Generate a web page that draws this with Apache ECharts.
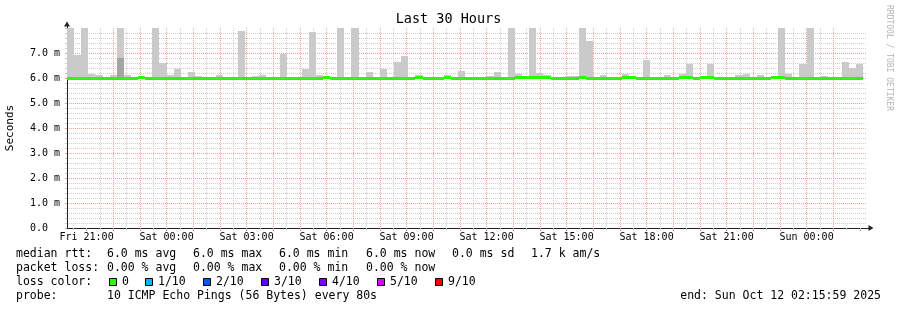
<!DOCTYPE html>
<html><head><meta charset="utf-8">
<script src="https://cdn.jsdelivr.net/npm/echarts@6/dist/echarts.min.js"></script>
<style>html,body{margin:0;padding:0;background:#fff}#c{width:897px;height:310px}</style>
</head><body><div id="c"></div>
<script>
// ---- text ----
const titleText = 'Last 30 Hours';
const yAxisName = 'Seconds';
const watermark = 'RRDTOOL / TOBI OETIKER';
const dayNames = ['Fri', 'Sat', 'Sun'];

// ---- time axis (hours since Fri 00:00) ----
const xStartHour = 20 + 15 / 60 + 59 / 3600;   // Fri 20:15:59
const xEndHour = xStartHour + 30;               // Sun 02:15:59
const firstBarHour = 20 + 16 / 60;              // first 16-min consolidation step
const stepHours = 16 / 60;
const majorTickHours = [21,22,23,24,25,26,27,28,29,30,31,32,33,34,35,36,37,38,39,40,41,42,43,44,45,46,47,48,49,50];
const minorTickHours = [20.5,21.5,22.5,23.5,24.5,25.5,26.5,27.5,28.5,29.5,30.5,31.5,32.5,33.5,34.5,35.5,36.5,37.5,38.5,39.5,40.5,41.5,42.5,43.5,44.5,45.5,46.5,47.5,48.5,49.5];
const labelHours = [21, 24, 27, 30, 33, 36, 39, 42, 45, 48];

// ---- y axis (ms) ----
const yMin = 0, yMax = 8, yInterval = 1;

// ---- series values (ms), one per 16-minute step ----
const smokeMax = [
  8.0, 6.92, 8.0, 6.16, 6.12, 6.0, 6.12, 8.0, 6.12, 6.0,
  6.04, 6.0, 8.0, 6.6, 6.12, 6.36, 6.0, 6.24, 6.08, 6.0,
  6.0, 6.12, 6.0, 6.0, 7.88, 6.0, 6.08, 6.12, 6.0, 6.0,
  6.96, 6.0, 6.0, 6.36, 7.84, 6.12, 6.1, 6.0, 8.0, 6.0,
  8.0, 6.0, 6.24, 6.0, 6.36, 6.0, 6.64, 6.88, 6.04, 6.12,
  6.0, 6.0, 6.0, 6.12, 6.0, 6.28, 6.0, 6.0, 6.06, 6.08,
  6.24, 6.0, 8.0, 6.16, 6.1, 8.0, 6.2, 6.12, 6.0, 6.0,
  6.08, 6.08, 8.0, 7.48, 6.0, 6.12, 6.0, 6.04, 6.16, 6.08,
  6.0, 6.72, 6.0, 6.0, 6.12, 6.0, 6.16, 6.56, 6.0, 6.0,
  6.56, 6.0, 6.0, 6.0, 6.12, 6.16, 6.0, 6.12, 6.0, 6.0,
  8.0, 6.16, 6.0, 6.56, 8.0, 6.0, 6.08, 6.0, 6.0, 6.64,
  6.4, 6.56
];
const smokeSecond = [
  6.0, 6.0, 6.0, 6.0, 6.0, 6.0, 6.0, 6.8, 6.0, 6.0,
  6.0, 6.0, 6.0, 6.0, 6.0, 6.0, 6.0, 6.0, 6.0, 6.0,
  6.0, 6.0, 6.0, 6.0, 6.0, 6.0, 6.0, 6.0, 6.0, 6.0,
  6.0, 6.0, 6.0, 6.0, 6.0, 6.0, 6.0, 6.0, 6.0, 6.0,
  6.0, 6.0, 6.0, 6.0, 6.0, 6.0, 6.0, 6.0, 6.0, 6.0,
  6.0, 6.0, 6.0, 6.0, 6.0, 6.0, 6.0, 6.0, 6.0, 6.0,
  6.0, 6.0, 6.0, 6.0, 6.0, 6.0, 6.0, 6.0, 6.0, 6.0,
  6.0, 6.0, 6.0, 6.0, 6.0, 6.0, 6.0, 6.0, 6.0, 6.0,
  6.0, 6.0, 6.0, 6.0, 6.0, 6.0, 6.0, 6.0, 6.0, 6.0,
  6.0, 6.0, 6.0, 6.0, 6.0, 6.0, 6.0, 6.0, 6.0, 6.0,
  6.0, 6.0, 6.0, 6.0, 6.0, 6.0, 6.0, 6.0, 6.0, 6.0,
  6.0, 6.0
];
const medianRtt = [
  6.0, 6.0, 6.0, 6.0, 6.0, 6.0, 6.0, 6.0, 6.0, 6.0,
  6.04, 6.0, 6.0, 6.0, 6.0, 6.0, 6.0, 6.0, 6.0, 6.0,
  6.0, 6.0, 6.0, 6.0, 6.0, 6.0, 6.0, 6.0, 6.0, 6.0,
  6.0, 6.0, 6.0, 6.0, 6.0, 6.0, 6.04, 6.0, 6.0, 6.0,
  6.0, 6.0, 6.0, 6.0, 6.0, 6.0, 6.0, 6.0, 6.0, 6.04,
  6.0, 6.0, 6.0, 6.04, 6.0, 6.0, 6.0, 6.0, 6.0, 6.0,
  6.0, 6.0, 6.0, 6.04, 6.04, 6.04, 6.04, 6.04, 6.0, 6.0,
  6.0, 6.0, 6.04, 6.0, 6.0, 6.0, 6.0, 6.0, 6.04, 6.04,
  6.0, 6.0, 6.0, 6.0, 6.0, 6.0, 6.04, 6.04, 6.0, 6.04,
  6.04, 6.0, 6.0, 6.0, 6.0, 6.0, 6.0, 6.0, 6.0, 6.04,
  6.04, 6.0, 6.0, 6.0, 6.0, 6.0, 6.0, 6.0, 6.0, 6.0,
  6.0, 6.0
];

// ---- legend texts ----
const statLines = [
  ['median rtt:', '6.0 ms avg', '6.0 ms max', '6.0 ms min', '6.0 ms now', '0.0 ms sd', '1.7 k am/s'],
  ['packet loss:', '0.00 % avg', '0.00 % max', '0.00 % min', '0.00 % now']
];
const lossTitle = 'loss color:';
const lossLabels = ['0', '1/10', '2/10', '3/10', '4/10', '5/10', '9/10'];
const lossColors = ['#26ff00', '#00b8ff', '#0059ff', '#5e00ff', '#7e00ff', '#dd00ff', '#ff0000'];
const probeTitle = 'probe:';
const probeText = '10 ICMP Echo Pings (56 Bytes) every 80s';
const endText = 'end: Sun Oct 12 02:15:59 2025';

// ---- build ----
const MONO = 'DejaVu Sans Mono';
const gridMinor = '#cdcdcd';
const gridMajor = '#f2a2a2';
const axisColor = '#222';

const smokeData = smokeMax.map((v, i) => {
  const t0 = firstBarHour + i * stepHours;
  return [t0, t0 + stepHours, medianRtt[i], v, smokeSecond[i]];
});
const medianData = medianRtt.map((m, i) => {
  const t0 = firstBarHour + i * stepHours;
  return [t0, t0 + stepHours, m];
});

function fmtHour(h) {
  const hr = Math.round(h);
  return dayNames[Math.floor(hr / 24)] + ' ' + String(hr % 24).padStart(2, '0') + ':00';
}
function fmtMs(v) { return v === 0 ? '0.0  ' : v.toFixed(1) + ' m'; }

function clampers(cs) {
  return {
    cy: y => Math.round(Math.min(Math.max(y, cs.y), cs.y + cs.height)),
    cx: x => Math.round(Math.min(Math.max(x, cs.x), cs.x + cs.width))
  };
}
function renderSmoke(params, api) {
  const { cx, cy } = clampers(params.coordSys);
  const t0 = api.value(0), t1 = api.value(1), lo = api.value(2), hi = api.value(3), hi2 = api.value(4);
  const x0 = cx(api.coord([t0, lo])[0]);
  const x1 = cx(api.coord([t1, lo])[0]);
  const yLo = cy(api.coord([t0, lo])[1]);
  const yHi = cy(api.coord([t0, hi])[1]);
  const yHi2 = cy(api.coord([t0, hi2])[1]);
  const children = [];
  if (yLo > yHi) children.push({ type: 'rect', shape: { x: x0, y: yHi, width: x1 - x0, height: yLo - yHi }, style: { fill: '#cacaca' } });
  if (yLo > yHi2) children.push({ type: 'rect', shape: { x: x0, y: yHi2, width: x1 - x0, height: yLo - yHi2 }, style: { fill: '#a4a4a4' } });
  return { type: 'group', children };
}
function renderMedian(params, api) {
  const { cx, cy } = clampers(params.coordSys);
  const t0 = api.value(0), t1 = api.value(1), m = api.value(2);
  const x0 = cx(api.coord([t0, m])[0]);
  const x1 = cx(api.coord([t1, m])[0]);
  const y = cy(api.coord([t0, m])[1]);
  return { type: 'rect', shape: { x: x0, y: y - 1, width: x1 - x0, height: 3 }, style: { fill: lossColors[0] } };
}

function txt(text, x, y, extra) {
  return Object.assign({ type: 'text', x, y, silent: true,
    style: Object.assign({ text, fontSize: 11.5, fontFamily: MONO, fill: '#000', align: 'left', verticalAlign: 'middle', textAlign: 'left', textVerticalAlign: 'middle' }, (extra && extra.style) || {}) },
    extra && extra.el ? extra.el : {});
}

const graphics = [];
graphics.push(txt(titleText, 448.5, 19.5, { style: { fontSize: 13.5, align: 'center', textAlign: 'center' } }));
graphics.push(txt(yAxisName, 10.5, 128, { style: { fontSize: 11, align: 'center', textAlign: 'center' }, el: { rotation: Math.PI / 2 } }));
graphics.push(txt(watermark, 889, 5, { style: { fontSize: 8, fill: '#b4b4b4' }, el: { rotation: -Math.PI / 2 } }));

const colX = [16, 107, 193, 279, 366, 452, 531];
const lineY = [254.5, 268.5, 282.5, 296.5];
statLines.forEach((items, li) => items.forEach((s, k) => graphics.push(txt(s, colX[k], lineY[li]))));
graphics.push(txt(lossTitle, colX[0], lineY[2]));
lossLabels.forEach((lab, k) => {
  const bx = k === 0 ? 109 : 145 + 58 * (k - 1);
  graphics.push({ type: 'rect', silent: true, shape: { x: bx + 0.5, y: 278.5, width: 7, height: 7 }, style: { fill: lossColors[k], stroke: '#000', lineWidth: 1 } });
  graphics.push(txt(lab, bx + 13, lineY[2]));
});
graphics.push(txt(probeTitle, colX[0], lineY[3]));
graphics.push(txt(probeText, colX[1], lineY[3]));
graphics.push(txt(endText, 881, lineY[3], { style: { align: 'right', textAlign: 'right' } }));

const dotted = [1, 1];
const option = {
  animation: false,
  backgroundColor: '#fff',
  textStyle: { fontFamily: MONO },
  grid: [
    { left: 67, top: 28, width: 800, height: 200 },
    { left: 67, top: 24, width: 804, height: 204 }
  ],
  xAxis: [
    { type: 'value', gridIndex: 0, position: 'bottom', min: xStartHour, max: xEndHour,
      axisLine: { show: false },
      axisTick: { show: true, length: 3, customValues: majorTickHours, lineStyle: { color: gridMajor } },
      axisLabel: { show: true, customValues: labelHours, formatter: fmtHour, fontSize: 10, fontFamily: MONO, color: '#000', margin: 4 },
      splitLine: { show: true, showMinLine: false, showMaxLine: false, lineStyle: { color: gridMajor, type: dotted, width: 1 } } },
    { type: 'value', gridIndex: 0, position: 'bottom', min: xStartHour, max: xEndHour,
      axisLine: { show: false },
      axisTick: { show: true, length: 2, customValues: minorTickHours, lineStyle: { color: gridMinor } },
      axisLabel: { show: false },
      splitLine: { show: true, showMinLine: false, showMaxLine: false, lineStyle: { color: gridMinor, type: dotted, width: 1 } } },
    { type: 'value', gridIndex: 1, position: 'bottom', min: 0, max: 1,
      axisLine: { show: true, symbol: ['none', 'triangle'], symbolSize: [6, 5], lineStyle: { color: axisColor, width: 1 } },
      axisTick: { show: false }, axisLabel: { show: false }, splitLine: { show: false } }
  ],
  yAxis: [
    { type: 'value', gridIndex: 0, min: yMin, max: yMax, interval: yInterval,
      axisLine: { show: false },
      axisTick: { show: true, length: 2, lineStyle: { color: gridMajor } },
      minorTick: { show: true, splitNumber: 5, length: 2, lineStyle: { color: gridMinor } },
      splitLine: { show: true, showMinLine: false, showMaxLine: false, lineStyle: { color: gridMajor, type: dotted, width: 1 } },
      minorSplitLine: { show: true, lineStyle: { color: gridMinor, type: dotted, width: 1 } },
      axisLabel: { formatter: fmtMs, fontSize: 10, fontFamily: MONO, color: '#000', margin: 7, showMaxLabel: false } },
    { type: 'value', gridIndex: 1, min: 0, max: 1,
      axisLine: { show: true, symbol: ['none', 'triangle'], symbolSize: [6, 5], lineStyle: { color: axisColor, width: 1 } },
      axisTick: { show: false }, axisLabel: { show: false }, splitLine: { show: false } }
  ],
  series: [
    { type: 'custom', xAxisIndex: 0, yAxisIndex: 0, renderItem: renderSmoke, data: smokeData,
      encode: { x: [0, 1], y: [2, 3, 4] }, silent: true, z: 2 },
    { type: 'custom', xAxisIndex: 0, yAxisIndex: 0, renderItem: renderMedian, data: medianData,
      encode: { x: [0, 1], y: [2] }, silent: true, z: 3 }
  ],
  graphic: graphics
};
const chart = echarts.init(document.getElementById('c'), null, { renderer: 'canvas' });
chart.setOption(option);
</script></body></html>
